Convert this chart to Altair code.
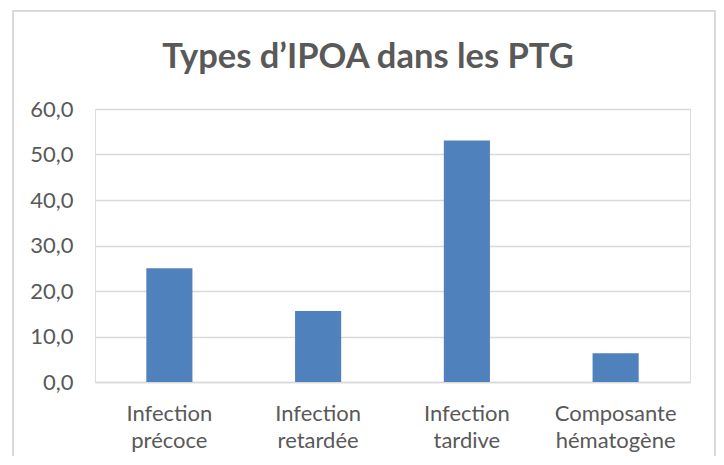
import altair as alt
import pandas as pd

categories = ["Infection précoce", "Infection retardée", "Infection tardive", "Composante hématogène"]
values = [25.0, 15.6, 53.1, 6.3]
title_text = ["Types d’IPOA dans les PTG"]

df = pd.DataFrame({"cat": categories, "val": values})
tdf = pd.DataFrame({"t": title_text})

TXT = "#595959"
GRID = "#d9d9d9"

bars = alt.Chart(df).mark_bar(color="#4f81bd").encode(
    x=alt.X("cat:N", sort=categories, title=None,
            scale=alt.Scale(paddingInner=0.69, paddingOuter=0.345),
            axis=alt.Axis(labelAngle=0, labelExpr="split(datum.label, ' ')",
                          labelFont="Lato", labelFontSize=22, labelColor=TXT,
                          labelLineHeight=27, labelPadding=21, ticks=False,
                          domainColor=GRID, domainWidth=1.3, labelBaseline="top")),
    y=alt.Y("val:Q", title=None,
            scale=alt.Scale(domain=[0, 60]),
            axis=alt.Axis(values=[0, 10, 20, 30, 40, 50, 60],
                          labelExpr="replace(format(datum.value, '.1f'), '.', ',')",
                          labelFont="Lato", labelFontSize=22, labelColor=TXT,
                          labelPadding=22, ticks=False, domain=False,
                          gridColor=GRID, gridWidth=1.3)),
)

border = alt.Chart(df).mark_rect(fill=None, stroke=GRID, strokeWidth=1.5).encode(
    x=alt.value(-82), x2=alt.value(620), y=alt.value(-98), y2=alt.value(380)
)

title = alt.Chart(tdf).mark_text(font="Lato", fontSize=34.5, fontWeight="bold",
                                 color=TXT, align="center", baseline="alphabetic").encode(
    text="t:N", x=alt.value(273), y=alt.value(-41)
)

chart = alt.layer(border, bars, title).properties(
    width=595, height=273,
    padding={"left": 87, "top": 101, "right": 26, "bottom": 74},
    autosize=alt.AutoSizeParams(type="none"),
).configure_view(stroke=None).configure(background="white")

chart.save("out.html", embed_options={"renderer": "svg", "actions": False})
